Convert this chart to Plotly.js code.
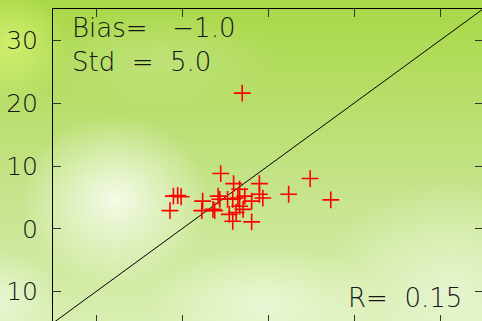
<!DOCTYPE html>
<html>
<head>
<meta charset="utf-8">
<script src="https://cdn.plot.ly/plotly-3.0.1.min.js"></script>
<style>
  html, body { margin: 0; padding: 0; width: 482px; height: 321px; overflow: hidden; }
  body {
    background:
      radial-gradient(ellipse 95px 85px at 115px 200px, rgba(246,252,236,0.95), rgba(246,252,236,0)),
      radial-gradient(ellipse 120px 60px at 265px 305px, rgba(240,250,225,0.8), rgba(240,250,225,0)),
      radial-gradient(ellipse 130px 110px at 450px 290px, rgba(236,247,218,0.75), rgba(236,247,218,0)),
      radial-gradient(ellipse 55px 55px at 12px 45px, rgba(212,242,112,0.9), rgba(212,242,112,0)),
      radial-gradient(ellipse 60px 50px at 0px 300px, rgba(236,248,222,0.8), rgba(236,248,222,0)),
      radial-gradient(ellipse 120px 50px at 160px 60px, rgba(200,230,140,0.6), rgba(200,230,140,0)),
      linear-gradient(to bottom, #a8d846 0%, #b9df6e 35%, #c6e48c 60%, #d8eeb0 100%);
  }
  #chart { width: 484px; height: 324px; }
</style>
</head>
<body>
<div id="chart"></div>
<script>
// Observed vs modelled values (red crosses)
const obsX = [-1.4, -1.0, -0.5, -0.1, 2.3, 2.4, 3.6, 3.8, 4.2, 4.4, 4.5, 5.3, 5.5, 5.9, 5.9,
              6.0, 6.3, 6.5, 6.7, 6.7, 7.0, 7.1, 7.3, 8.1, 8.1, 9.0, 9.0, 9.4, 12.4, 14.9, 17.3];
const obsY = [2.9, 5.2, 5.3, 5.1, 2.9, 4.4, 3.1, 2.9, 5.2, 4.7, 8.8, 4.7, 2.3, 1.2, 4.7,
              7.2, 2.6, 4.9, 6.3, 3.6, 21.6, 3.1, 5.2, 4.4, 1.1, 7.2, 5.5, 4.9, 5.5, 8.0, 4.6];

// 1:1 reference line
const lineX = [-15, 35];
const lineY = [-15, 35];

const yTickVals = [30, 20, 10, 0, -10];
const yTickText = ["30", "20", "10", "0", "10"];

const statsText = ["Bias=   \u22121.0", "Std  =  5.0"];
const rText = "R=  0.15";

const textFont = { family: "DejaVu Sans", size: 26, color: "#151515", weight: 200 };

const traces = [
  {
    x: lineX, y: lineY,
    mode: "lines",
    line: { color: "black", width: 1 },
    hoverinfo: "skip",
  },
  {
    x: obsX, y: obsY,
    mode: "markers",
    marker: { symbol: "cross-thin", size: 12, line: { color: "red", width: 1.6 } },
  },
];

const layout = {
  width: 484,
  height: 324,
  margin: { l: 53, r: 1, t: 9, b: 1 },
  paper_bgcolor: "rgba(0,0,0,0)",
  plot_bgcolor: "rgba(0,0,0,0)",
  showlegend: false,
  xaxis: {
    range: [-15, 35],
    tickvals: [-10, 0, 10, 20, 30],
    showticklabels: false,
    ticks: "inside", ticklen: 8, tickcolor: "#333", tickwidth: 1,
    showline: true, linecolor: "black", linewidth: 1, mirror: "ticks",
    showgrid: false, zeroline: false,
  },
  yaxis: {
    range: [-15, 35],
    tickvals: yTickVals,
    ticktext: yTickText,
    tickfont: { family: "DejaVu Sans", size: 25, color: "#151515", weight: 200 },
    ticklabelstandoff: 9,
    ticks: "inside", ticklen: 8, tickcolor: "#333", tickwidth: 1,
    showline: true, linecolor: "black", linewidth: 1, mirror: "ticks",
    showgrid: false, zeroline: false,
  },
  annotations: [
    {
      xref: "paper", yref: "paper", x: 0.04, y: 0.995,
      xanchor: "left", yanchor: "top", align: "left",
      text: statsText.join("<br>"),
      showarrow: false,
      font: textFont,
    },
    {
      xref: "paper", yref: "paper", x: 0.955, y: 0.025,
      xanchor: "right", yanchor: "bottom",
      text: rText,
      showarrow: false,
      font: textFont,
    },
  ],
};

Plotly.newPlot("chart", traces, layout, { staticPlot: true });
</script>
</body>
</html>
